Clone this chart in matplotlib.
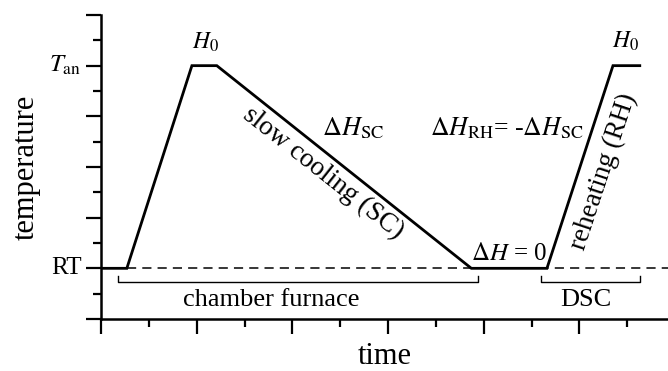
import matplotlib
matplotlib.use("Agg")
import matplotlib.pyplot as plt
from matplotlib.ticker import MultipleLocator

plt.rcParams['font.family'] = ['Liberation Serif', 'DejaVu Serif']
plt.rcParams['mathtext.fontset'] = 'stix'

# temperature profile (time, temperature) in arbitrary units
prof_t = [0.0, 0.27, 0.95, 1.21, 3.87, 4.66, 5.35, 5.63]
prof_T = [1.0, 1.0, 5.0, 5.0, 1.0, 1.0, 5.0, 5.0]
RT = 1.0
T_AN = 5.0
ytick_vals = [RT, T_AN]
ytick_labels = ['RT', r'$T_{\rm an}$']
chamber_span = [0.18, 3.94]
dsc_span = [4.60, 5.63]

fig = plt.figure(figsize=(6.68, 3.71), dpi=100)
ax = fig.add_axes([0.1512, 0.1402, 0.8488, 0.8194])
ax.set_xlim(0, 5.925)
ax.set_ylim(0, 6)

# dashed RT line
ax.plot([prof_t[1], 5.925], [RT, RT], color='black', lw=1.1, ls=(0, (6, 4)))
# profile
ax.plot(prof_t, prof_T, color='black', lw=2.0, solid_joinstyle='miter')

# brackets
by, tip = 0.725, 0.84
for a, b in (chamber_span, dsc_span):
    ax.plot([a, a, b, b], [tip, by, by, tip], color='black', lw=1.0)

ax.text(1.78, 0.26, 'chamber furnace', ha='center', va='baseline', fontsize=19)
ax.text(5.07, 0.26, 'DSC', ha='center', va='baseline', fontsize=19)

ax.text(1.09, 5.33, r'$H_0$', ha='center', va='baseline', fontsize=17)
ax.text(5.48, 5.35, r'$H_0$', ha='center', va='baseline', fontsize=17)
ax.text(2.31, 3.63, r'$\Delta H_{\rm SC}$', ha='left', va='baseline', fontsize=19)
ax.text(3.44, 3.63, r'$\Delta H_{\rm RH}$= -$\Delta H_{\rm SC}$', ha='left', va='baseline', fontsize=18.5)
ax.text(3.87, 1.16, r'$\Delta H$ = 0', ha='left', va='baseline', fontsize=18)
ax.text(2.32, 2.88, 'slow cooling (SC)', ha='center', va='center', rotation=-38.3,
        rotation_mode='anchor', fontsize=19.5)
ax.text(5.25, 2.90, 'reheating (RH)', ha='center', va='center', rotation=71.7,
        rotation_mode='anchor', fontsize=19.5)

for s in ('top', 'right'):
    ax.spines[s].set_visible(False)
for s in ('left', 'bottom'):
    ax.spines[s].set_linewidth(1.8)

ax.xaxis.set_major_locator(MultipleLocator(1))
ax.xaxis.set_minor_locator(MultipleLocator(0.5))
ax.yaxis.set_major_locator(MultipleLocator(1))
ax.yaxis.set_minor_locator(MultipleLocator(0.5))
ax.set_xticklabels([])
ax.set_yticklabels([])
ax.tick_params(which='major', direction='out', length=11, width=1.6)
ax.tick_params(which='minor', direction='out', length=5.5, width=1.6)

for v, lab in zip(ytick_vals, ytick_labels):
    ax.annotate(lab, xy=(0, v), xycoords=('axes fraction', 'data'),
                xytext=(-14, 0), textcoords='offset points',
                ha='right', va='center', fontsize=18)

ax.set_xlabel('time', fontsize=22, labelpad=2)
ax.set_ylabel('temperature', fontsize=22, labelpad=29)

fig.savefig('out.png', dpi=100)
